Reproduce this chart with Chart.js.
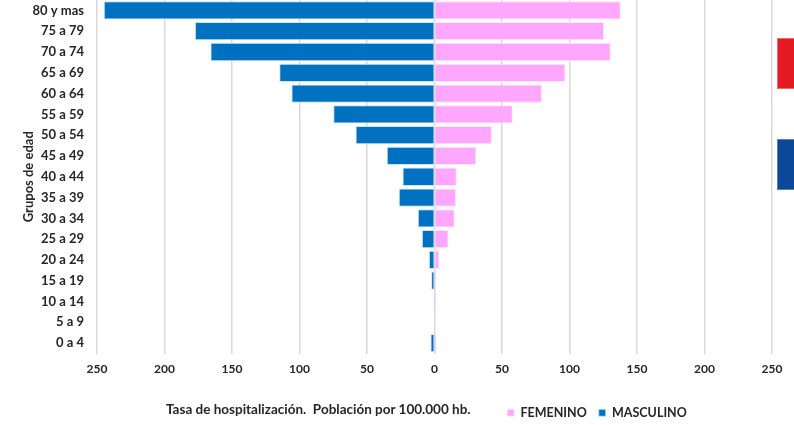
<!DOCTYPE html>
<html>
<head>
<meta charset="utf-8">
<script src="https://cdn.jsdelivr.net/npm/chart.js@4.4.1/dist/chart.umd.min.js"></script>
<style>
  html, body { margin: 0; padding: 0; background: #ffffff; }
  #wrap { position: relative; width: 794px; height: 425px; overflow: hidden; }
  #c { position: absolute; left: 0; top: 0; }
  #xtitle { position: absolute; left: 166px; top: 401px; font: bold 13.5px Lato, sans-serif; color: #262626; white-space: nowrap; }
  .deco { position: absolute; left: 777px; width: 24px; height: 51px; box-sizing: border-box; }
  #red { top: 38px; background: #E41B23; border: 1px solid #EE6A6F; }
  #blue { top: 139px; background: #0D4797; border: 1px solid #5C7FB8; }
</style>
</head>
<body>
<div id="wrap">
  <canvas id="c" width="794" height="425"></canvas>
  <div id="xtitle">Tasa de hospitalización.&nbsp; Población por 100.000 hb.</div>
  <div class="deco" id="red"></div>
  <div class="deco" id="blue"></div>
</div>
<script>
const categories = ["80 y mas","75 a 79","70 a 74","65 a 69","60 a 64","55 a 59","50 a 54","45 a 49","40 a 44","35 a 39","30 a 34","25 a 29","20 a 24","15 a 19","10 a 14","5 a 9","0 a 4"];
const femenino = [138, 125.6, 130.6, 97, 79.6, 58, 42.5, 31, 16.5, 16, 15, 10.4, 3.7, 1.2, 1.2, 0, 1.5];
const masculino = [245, 177.5, 166, 115, 106, 75, 58.5, 35.4, 23.7, 26.5, 12.4, 9.4, 4.2, 2.5, 0, 0, 3];
const xTicks = [-250, -200, -150, -100, -50, 0, 50, 100, 150, 200, 250];

const masculinoNeg = masculino.map(v => -v);

const legendShift = {
  id: 'legendShift',
  afterLayout(chart) {
    const lg = chart.legend;
    lg._baseLeft = lg.left; lg._baseRight = lg.right; lg._baseTop = lg.top; lg._baseBottom = lg.bottom;
  },
  beforeDraw(chart) {
    const lg = chart.legend;
    const shift = 597 - (lg._baseLeft + lg._baseRight) / 2;
    lg.left = lg._baseLeft + shift;
    lg.right = lg._baseRight + shift;
    lg.top = lg._baseTop + 4;
    lg.bottom = lg._baseBottom + 4;
  }
};

new Chart(document.getElementById('c'), {
  type: 'bar',
  data: {
    labels: categories,
    datasets: [
      { label: 'FEMENINO', data: femenino, backgroundColor: '#FFA6FF', borderColor: 'rgba(255,230,255,0.9)', borderWidth: 1, barPercentage: 0.88, categoryPercentage: 1 },
      { label: 'MASCULINO', data: masculinoNeg, backgroundColor: '#0070C0', borderColor: 'rgba(200,225,245,0.9)', borderWidth: 1, barPercentage: 0.88, categoryPercentage: 1 }
    ]
  },
  options: {
    indexAxis: 'y',
    responsive: false,
    animation: false,
    events: [],
    layout: { padding: { left: 0, right: 22, top: 0, bottom: 0 } },
    plugins: {
      legend: {
        position: 'bottom',
        labels: { boxWidth: 7, boxHeight: 7, padding: 12, color: '#262626', font: { family: 'Lato', size: 12.5, weight: 'bold' } }
      },
      tooltip: { enabled: false }
    },
    scales: {
      x: {
        stacked: true,
        min: -250, max: 250,
        afterBuildTicks(scale) { scale.ticks = xTicks.map(v => ({ value: v })); },
        afterFit(scale) { scale.height = 37; scale.paddingLeft = 0; scale.paddingRight = 0; },
        grid: { color: '#D9D9D9', lineWidth: 1.5, drawTicks: false },
        border: { display: false },
        ticks: { padding: 8, color: '#262626', font: { family: 'Lato', size: 12, weight: 'bold' }, callback: v => Math.abs(v) }
      },
      y: {
        stacked: true,
        afterFit(scale) { scale.width = 97; scale.paddingTop = 0; scale.paddingBottom = 0; },
        grid: { display: false, drawTicks: false },
        border: { display: false },
        title: { display: true, text: 'Grupos de edad', color: '#262626', font: { family: 'Lato', size: 13, weight: 'bold' }, padding: { top: 21, bottom: 0 } },
        ticks: { padding: 13, color: '#262626', font: { family: 'Lato', size: 13, weight: 'bold' } }
      }
    }
  },
  plugins: [legendShift]
});
</script>
</body>
</html>
